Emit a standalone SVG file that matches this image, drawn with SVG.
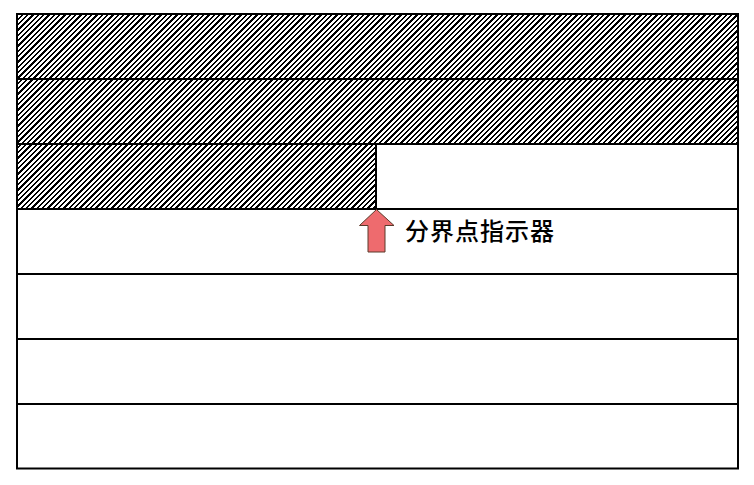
<svg xmlns="http://www.w3.org/2000/svg" width="754" height="485" viewBox="0 0 754 485">
<style>
.row{fill:none;stroke:#000;stroke-width:2}
.hatch{fill:url(#h);stroke:none}
.lbl{font-family:"Noto Sans CJK SC","Liberation Serif",serif;font-size:24px;letter-spacing:1px;fill:#000;font-weight:500}
.arrow{fill:#EE6B6E;stroke:#5a3a2a;stroke-width:1}
</style>
<defs>
<pattern id="h" patternUnits="userSpaceOnUse" x="0" y="0" width="16" height="16">
<rect width="16" height="16" fill="#fff"/>
<path d="M-2,2L2,-2M-2,7.333L7.333,-2M-2,12.667L12.667,-2M-2,18L18,-2M-2,23.333L23.333,-2M-2,28.667L28.667,-2M-2,34L34,-2" stroke="#000" stroke-width="1.5" fill="none" shape-rendering="crispEdges"/>
</pattern>
</defs>
<rect width="754" height="485" fill="#fff"/>
<g id="hatched">
<rect class="hatch" x="17" y="14" width="721" height="130"/>
<rect class="hatch" x="17" y="144" width="359" height="65"/>
</g>
<g id="rows">
<rect class="row" x="17" y="14" width="721" height="454.5"/>
<line class="row" x1="17" y1="79" x2="738" y2="79"/>
<line class="row" x1="17" y1="144" x2="738" y2="144"/>
<line class="row" x1="17" y1="209" x2="738" y2="209"/>
<line class="row" x1="17" y1="274" x2="738" y2="274"/>
<line class="row" x1="17" y1="339" x2="738" y2="339"/>
<line class="row" x1="17" y1="404" x2="738" y2="404"/>
<line class="row" x1="376" y1="144" x2="376" y2="209"/>
</g>
<g id="indicator">
<polygon class="arrow" points="376.5,209.5 394,225.5 385,225.5 385,252 368,252 368,225.5 359.5,225.5"/>
<text class="lbl" x="405" y="240">分界点指示器</text>
</g>
</svg>
